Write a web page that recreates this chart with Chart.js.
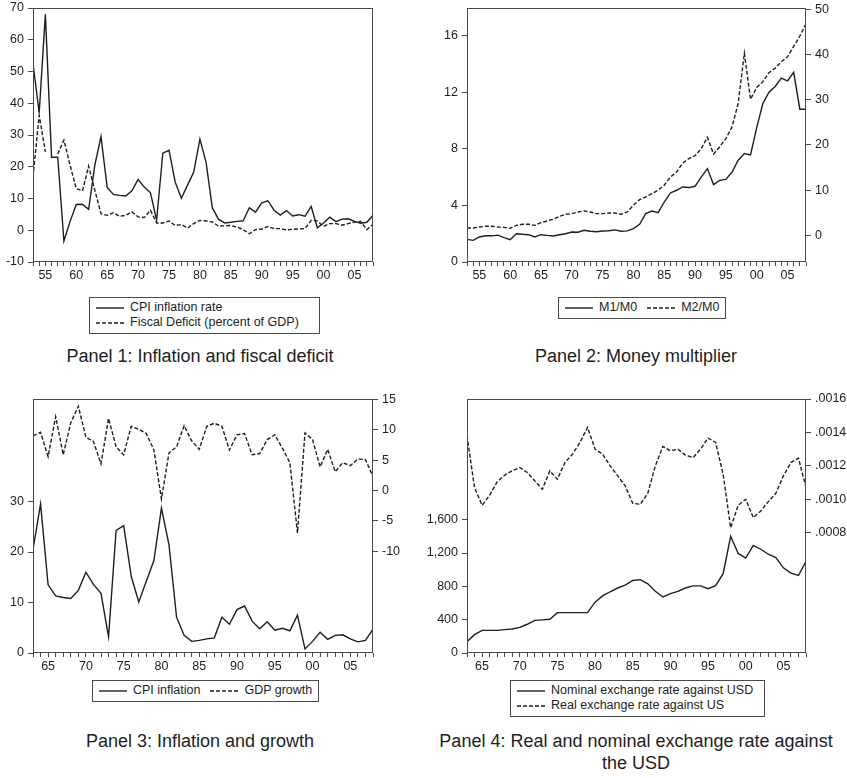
<!DOCTYPE html>
<html>
<head>
<meta charset="utf-8">
<script src="https://cdn.jsdelivr.net/npm/chart.js@4.4.1/dist/chart.umd.min.js"></script>
<style>
  html, body { margin: 0; padding: 0; background: #fff; }
  body { position: relative; width: 847px; height: 778px; overflow: hidden;
         font-family: "Liberation Sans", Arial, sans-serif; color: #1e1e1e; }
  canvas { position: absolute; }
  .legend { position: absolute; box-sizing: border-box; border: 1px solid #4a4a4a; background: #fff;
            font-size: 12.5px; line-height: 15px; padding: 2px 6px; white-space: nowrap; }
  .legend .row { display: flex; align-items: center; }
  .legend .item { display: inline-flex; align-items: center; margin-right: 10px; }
  .legend .item:last-child { margin-right: 0; }
  .legend svg { margin-right: 6px; flex: none; }
  .title { position: absolute; text-align: center; font-size: 18px; line-height: 22px; white-space: nowrap; }
</style>
</head>
<body>
<canvas id="p1" width="420" height="290" style="left:0;top:0"></canvas>
<canvas id="p2" width="427" height="290" style="left:420px;top:0"></canvas>
<canvas id="p3" width="420" height="290" style="left:0;top:390px"></canvas>
<canvas id="p4" width="427" height="290" style="left:420px;top:390px"></canvas>

<div class="legend" style="left:89px;top:297px;width:231px;height:37px">
  <div class="row"><svg width="28" height="8"><line x1="0" y1="4" x2="28" y2="4" stroke="#1e1e1e" stroke-width="1.4"/></svg><span>CPI inflation rate</span></div>
  <div class="row"><svg width="28" height="8"><line x1="0" y1="4" x2="28" y2="4" stroke="#1e1e1e" stroke-width="1.4" stroke-dasharray="4 2"/></svg><span>Fiscal Deficit (percent of GDP)</span></div>
</div>
<div class="title" style="left:0;width:400px;top:345px">Panel 1: Inflation and fiscal deficit</div>

<div class="legend" style="left:558px;top:297px;height:22px">
  <div class="row">
    <span class="item"><svg width="28" height="8"><line x1="0" y1="4" x2="28" y2="4" stroke="#1e1e1e" stroke-width="1.4"/></svg>M1/M0</span>
    <span class="item"><svg width="28" height="8"><line x1="0" y1="4" x2="28" y2="4" stroke="#1e1e1e" stroke-width="1.4" stroke-dasharray="4 2"/></svg>M2/M0</span>
  </div>
</div>
<div class="title" style="left:436px;width:400px;top:345px">Panel 2: Money multiplier</div>

<div class="legend" style="left:92px;top:680px;height:22px">
  <div class="row">
    <span class="item"><svg width="28" height="8"><line x1="0" y1="4" x2="28" y2="4" stroke="#1e1e1e" stroke-width="1.4"/></svg>CPI inflation</span>
    <span class="item"><svg width="28" height="8"><line x1="0" y1="4" x2="28" y2="4" stroke="#1e1e1e" stroke-width="1.4" stroke-dasharray="4 2"/></svg>GDP growth</span>
  </div>
</div>
<div class="title" style="left:0;width:400px;top:730px">Panel 3: Inflation and growth</div>

<div class="legend" style="left:510px;top:680px;width:255px;height:37px">
  <div class="row"><svg width="28" height="8"><line x1="0" y1="4" x2="28" y2="4" stroke="#1e1e1e" stroke-width="1.4"/></svg><span>Nominal exchange rate against USD</span></div>
  <div class="row"><svg width="28" height="8"><line x1="0" y1="4" x2="28" y2="4" stroke="#1e1e1e" stroke-width="1.4" stroke-dasharray="4 2"/></svg><span>Real exchange rate against US</span></div>
</div>
<div class="title" style="left:436px;width:400px;top:730px">Panel 4: Real and nominal exchange rate against<br>the USD</div>

<script>
// ---- Years ----
const years1953 = [1953,1954,1955,1956,1957,1958,1959,1960,1961,1962,1963,1964,1965,1966,1967,1968,1969,1970,
  1971,1972,1973,1974,1975,1976,1977,1978,1979,1980,1981,1982,1983,1984,1985,1986,1987,1988,1989,1990,
  1991,1992,1993,1994,1995,1996,1997,1998,1999,2000,2001,2002,2003,2004,2005,2006,2007,2008];
const years1963 = years1953.slice(10);

// ---- Panel 1: CPI inflation and fiscal deficit (1953-2008) ----
const cpiInflation = [52.5,37,68,23,23,-3.4,2.8,8.1,8.2,6.6,20.5,29.5,13.5,11.3,11.0,10.8,12.4,16.0,
  13.6,11.8,3.2,24.3,25.2,15.2,10.1,14.2,18.3,28.7,21.4,7.1,3.5,2.3,2.5,2.8,3.0,7.1,5.7,8.6,
  9.3,6.3,4.8,6.2,4.5,4.9,4.4,7.5,0.8,2.3,4.1,2.7,3.5,3.6,2.8,2.2,2.5,4.7];
const fiscalDeficit = [16.8,36.2,24.7,null,24.0,28.4,20.5,13.1,12.4,20.2,12.6,5.2,4.7,5.5,4.4,4.7,5.8,4.2,
  4.0,6.3,2.3,2.3,2.9,1.5,1.8,0.7,2.1,3.1,2.9,2.6,1.3,1.4,1.5,1.0,0.2,-1.1,0.2,0.4,
  1.2,0.5,0.5,0.1,0.3,0.4,0.5,3.1,2.9,1.2,2.1,2.1,1.6,2.1,2.6,2.8,0.2,1.9];
const p1Ticks = [-10,0,10,20,30,40,50,60,70];

// ---- Panel 2: money multipliers (1953-2008) ----
const m1m0 = [1.6,1.53,1.77,1.85,1.85,1.9,1.72,1.58,2.0,1.96,1.93,1.77,1.93,1.88,1.84,1.93,2.0,2.12,
  2.1,2.24,2.17,2.14,2.19,2.21,2.27,2.17,2.2,2.36,2.66,3.42,3.6,3.49,4.24,4.88,5.07,5.3,5.26,5.35,
  6.0,6.6,5.47,5.77,5.84,6.36,7.19,7.66,7.56,9.5,11.2,12.0,12.4,13.0,12.8,13.4,10.8,10.8];
const m2m0 = [1.62,1.62,1.85,2.0,2.0,1.85,1.77,1.55,2.2,2.44,2.44,2.2,2.8,3.18,3.55,4.2,4.66,4.8,
  5.17,5.4,5.17,4.8,4.8,4.95,4.95,4.66,5.17,6.65,7.9,8.5,9.24,9.98,11.1,12.9,14.0,16.0,17.0,17.6,
  19.2,21.7,18.0,19.6,21.4,24.0,29.2,40.3,30.1,32.7,34.0,36.0,37.0,38.4,39.5,41.8,44.1,46.8];
const p2LeftTicks = [0,4,8,12,16];
const p2RightTicks = [0,10,20,30,40,50];

// ---- Panel 3: inflation and GDP growth (1963-2008) ----
const cpiInflation63 = cpiInflation.slice(10);
const gdpGrowth = [9.0,9.6,5.6,12.2,5.9,11.2,13.9,8.8,8.1,4.4,11.9,7.2,5.9,10.6,10.1,9.4,6.7,-1.4,
  6.2,7.2,10.7,8.2,6.8,10.6,11.1,10.6,6.7,9.2,9.4,5.9,6.1,8.4,9.2,7.0,4.6,-7.0,9.5,8.4,
  3.9,6.8,3.1,4.6,4.1,5.2,5.1,2.3];
const p3LeftTicks = [0,10,20,30];
const p3RightTicks = [-10,-5,0,5,10,15];

// ---- Panel 4: nominal and real exchange rate (1963-2008) ----
const nominalRate = [135,220,272,272,272,280,288,308,345,392,398,405,484,484,484,484,484,610,
  685,735,780,815,870,880,830,740,672,712,740,780,805,805,772,808,952,1400,1195,1140,
  1292,1245,1185,1145,1022,958,930,1100];
const realRate = [0.00138,0.00107,0.000964,0.001024,0.001104,0.001144,0.00117,0.00119,0.00116,0.00111,
  0.00106,0.00117,0.00112,0.00122,0.00127,0.00134,0.00143,0.0013,0.00127,0.0012,0.00114,0.00108,
  0.000976,0.00097,0.001036,0.0012,0.001316,0.00129,0.0013,0.001264,0.00125,0.0013,0.001366,0.00134,
  0.00115,0.00083,0.000964,0.001,0.00089,0.00093,0.000986,0.001036,0.00114,0.00122,0.001246,0.00107];
const p4LeftTicks = [0,400,800,1200,1600];
const p4RightTicks = [0.0008,0.0010,0.0012,0.0014,0.0016];

// ---- Shared styling ----
const INK = '#1e1e1e';
const FRAME = '#4a4a4a';
const tickFont = { family: '"Liberation Sans", Arial, sans-serif', size: 12.5 };

// outline around the plotting area
const framePlugin = {
  id: 'frame',
  afterDatasetsDraw(chart) {
    const { ctx, chartArea: a } = chart;
    ctx.save();
    ctx.strokeStyle = FRAME;
    ctx.lineWidth = 1;
    ctx.strokeRect(Math.round(a.left) + 0.5, Math.round(a.top) + 0.5,
                   Math.round(a.right - a.left) - 1, Math.round(a.bottom - a.top) - 1);
    ctx.restore();
  }
};

function xAxis(years, height) {
  return {
    type: 'linear', min: years[0], max: years[years.length - 1],
    afterBuildTicks: s => { s.ticks = years.map(v => ({ value: v })); },
    afterFit: s => { s.height = height; s.paddingLeft = 0; s.paddingRight = 0; },
    ticks: { autoSkip: false, maxRotation: 0, minRotation: 0, padding: 2, color: INK, font: tickFont,
             callback: v => (v % 5 === 0 ? String(v % 100).padStart(2, '0') : '') },
    grid: { display: true, drawOnChartArea: false, drawTicks: true, tickLength: 4, color: FRAME, lineWidth: 1 },
    border: { display: false }
  };
}

function yAxis(position, min, max, ticks, width, fmt) {
  return {
    type: 'linear', position, min, max,
    afterBuildTicks: s => { s.ticks = ticks.map(v => ({ value: v })); },
    afterFit: s => { s.width = width; s.paddingTop = 0; s.paddingBottom = 0; },
    ticks: { padding: 4, color: INK, font: tickFont, callback: fmt || (v => String(v)) },
    grid: { display: true, drawOnChartArea: false, drawTicks: true, tickLength: 5, color: FRAME, lineWidth: 1 },
    border: { display: false }
  };
}

function series(years, values, axis, dashed) {
  return {
    data: years.map((x, i) => ({ x, y: values[i] })),
    yAxisID: axis,
    borderColor: INK, borderWidth: 1.4, borderDash: dashed ? [4, 2] : [],
    pointRadius: 0, tension: 0, fill: false, spanGaps: false
  };
}

function panel(id, datasets, scales, padding) {
  return new Chart(document.getElementById(id), {
    type: 'line',
    data: { datasets },
    options: {
      responsive: false, animation: false, devicePixelRatio: 1, events: [],
      layout: { padding },
      plugins: { legend: { display: false }, tooltip: { enabled: false } },
      scales
    },
    plugins: [framePlugin]
  });
}

// Panel 1
panel('p1',
  [series(years1953, cpiInflation, 'y', false), series(years1953, fiscalDeficit, 'y', true)],
  { x: xAxis(years1953, 28), y: yAxis('left', -10, 70, p1Ticks, 33) },
  { top: 8, right: 47, left: 0, bottom: 0 });

// Panel 2
panel('p2',
  [series(years1953, m1m0, 'y', false), series(years1953, m2m0, 'y2', true)],
  { x: xAxis(years1953, 28), y: yAxis('left', 0, 17.95, p2LeftTicks, 47),
    y2: yAxis('right', -5.9, 50.3, p2RightTicks, 41) },
  { top: 8, right: 0, left: 0, bottom: 0 });

// Panel 3
panel('p3',
  [series(years1963, cpiInflation63, 'y', false), series(years1963, gdpGrowth, 'y2', true)],
  { x: xAxis(years1963, 27), y: yAxis('left', 0, 50.3, p3LeftTicks, 33),
    y2: yAxis('right', -26.8, 15.1, p3RightTicks, 47) },
  { top: 9, right: 0, left: 0, bottom: 0 });

// Panel 4
panel('p4',
  [series(years1963, nominalRate, 'y', false), series(years1963, realRate, 'y2', true)],
  { x: xAxis(years1963, 27),
    y: yAxis('left', 0, 3048, p4LeftTicks, 47, v => v.toLocaleString('en-US')),
    y2: yAxis('right', 0.00008, 0.0016, p4RightTicks, 41, v => v.toFixed(4).replace(/^0/, '')) },
  { top: 9, right: 0, left: 0, bottom: 0 });
</script>
</body>
</html>
